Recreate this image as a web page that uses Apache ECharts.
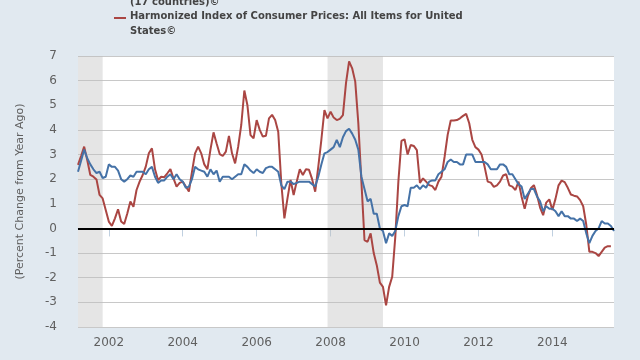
<!DOCTYPE html>
<html><head><meta charset="utf-8">
<script src="https://cdn.jsdelivr.net/npm/echarts@6/dist/echarts.min.js"></script>
<style>html,body{margin:0;padding:0;background:#e1e9f0}#c{width:640px;height:360px}</style>
</head><body><div id="c"></div>
<script>
// ---- data ----
const firstMonth = [2001, 3];   // March 2001
const monthCount = 175;         // through September 2015
const evenYearTicks = ['2002', '2004', '2006', '2008', '2010', '2012', '2014'];
const yMin = -4, yMax = 7, yStep = 1;

const euroAreaName = 'Harmonized Index of Consumer Prices: All Items for Euro area (17 countries)©';
const unitedStatesName = 'Harmonized Index of Consumer Prices: All Items for United States©';

const euroArea = [
  2.3, 2.75, 3.2, 2.85, 2.6, 2.4, 2.25, 2.3, 2.05, 2.1,           // 2001 Mar-Dec
  2.6, 2.5, 2.5, 2.35, 2.0, 1.9, 2.0, 2.15, 2.1, 2.3, 2.3, 2.3,    // 2002
  2.2, 2.4, 2.5, 2.1, 1.85, 1.95, 1.95, 2.1, 2.2, 2.0, 2.2, 2.0,   // 2003
  1.9, 1.65, 1.7, 2.0, 2.5, 2.4, 2.35, 2.3, 2.1, 2.4, 2.2, 2.35,   // 2004
  1.9, 2.1, 2.1, 2.1, 2.0, 2.1, 2.2, 2.2, 2.6, 2.5, 2.35, 2.25,    // 2005
  2.4, 2.3, 2.25, 2.45, 2.5, 2.5, 2.4, 2.3, 1.75, 1.6, 1.9, 1.9,   // 2006
  1.8, 1.85, 1.9, 1.9, 1.9, 1.9, 1.8, 1.7, 2.1, 2.6, 3.05, 3.1,    // 2007
  3.2, 3.3, 3.6, 3.3, 3.7, 3.95, 4.05, 3.85, 3.6, 3.2, 2.1, 1.6,   // 2008
  1.1, 1.2, 0.6, 0.6, 0.0, -0.1, -0.6, -0.2, -0.3, -0.1, 0.5, 0.9, // 2009
  0.95, 0.9, 1.65, 1.65, 1.75, 1.6, 1.75, 1.65, 1.9, 1.95, 1.95, 2.2, // 2010
  2.3, 2.4, 2.7, 2.8, 2.7, 2.7, 2.6, 2.6, 3.0, 3.0, 3.0, 2.7,      // 2011
  2.7, 2.7, 2.7, 2.6, 2.4, 2.4, 2.4, 2.6, 2.6, 2.5, 2.2, 2.2,      // 2012
  2.0, 1.8, 1.7, 1.2, 1.4, 1.6, 1.6, 1.3, 1.1, 0.7, 0.9, 0.8,      // 2013
  0.8, 0.7, 0.5, 0.7, 0.5, 0.5, 0.4, 0.4, 0.3, 0.4, 0.3, -0.2,     // 2014
  -0.6, -0.3, -0.1, 0.0, 0.3, 0.2, 0.2, 0.1, -0.1                  // 2015 Jan-Sep
];

const unitedStates = [
  2.58, 2.94, 3.32, 2.78, 2.17, 2.1, 1.99, 1.36, 1.22, 0.75,        // 2001 Mar-Dec
  0.28, 0.1, 0.41, 0.78, 0.28, 0.18, 0.61, 1.09, 0.88, 1.56, 1.9, 2.17, // 2002
  2.51, 3.05, 3.25, 2.4, 1.96, 2.1, 2.08, 2.24, 2.41, 2.03, 1.7, 1.85,  // 2003
  1.9, 1.7, 1.5, 2.3, 3.05, 3.32, 3.05, 2.6, 2.4, 3.2, 3.9, 3.45,   // 2004
  3.02, 2.94, 3.12, 3.76, 3.05, 2.64, 3.32, 4.2, 5.6, 5.0, 3.79, 3.66, // 2005
  4.4, 4.0, 3.73, 3.76, 4.47, 4.61, 4.4, 3.93, 1.83, 0.41, 1.22, 1.97, // 2006
  1.36, 1.9, 2.4, 2.17, 2.4, 2.38, 2.0, 1.49, 2.5, 3.6, 4.8, 4.47,  // 2007
  4.74, 4.5, 4.4, 4.45, 4.6, 5.9, 6.78, 6.5, 5.96, 4.27, 1.9, -0.47, // 2008
  -0.54, -0.2, -1.0, -1.5, -2.2, -2.37, -3.12, -2.37, -1.96, -0.34, 1.9, 3.55, // 2009
  3.62, 3.0, 3.39, 3.35, 3.18, 1.85, 2.03, 1.9, 1.76, 1.72, 1.56, 1.9, // 2010
  2.1, 2.9, 3.8, 4.38, 4.38, 4.4, 4.47, 4.57, 4.65, 4.27, 3.6, 3.3,  // 2011
  3.2, 3.0, 2.5, 1.9, 1.86, 1.69, 1.75, 1.9, 2.15, 2.2, 1.75, 1.7,   // 2012
  1.56, 1.9, 1.29, 0.8, 1.3, 1.63, 1.76, 1.36, 0.85, 0.54, 1.05, 1.18, // 2013
  0.75, 1.2, 1.75, 1.94, 1.88, 1.65, 1.38, 1.33, 1.3, 1.15, 0.9, 0.15, // 2014
  -0.95, -0.95, -1.0, -1.12, -0.95, -0.78, -0.72, -0.72              // 2015 Jan-Aug
];

const recessions = [['2001-03', '2001-11'], ['2007-12', '2009-06']];

// ---- build ----
const months = [];
for (let i = 0; i < monthCount; i++) {
  const t = firstMonth[1] - 1 + i;
  const y = firstMonth[0] + Math.floor(t / 12);
  const m = t % 12 + 1;
  months.push(y + '-' + (m < 10 ? '0' + m : m));
}
const isTick = (idx, v) => v.slice(5) === '01' && evenYearTicks.indexOf(v.slice(0, 4)) >= 0;

const chart = echarts.init(document.getElementById('c'));
const font = 'DejaVu Sans';
const legendFont = { fontFamily: 'DejaVu Sans', fontWeight: 'bold', fontSize: 10, fill: '#444' };

chart.setOption({
  backgroundColor: '#e1e9f0',
  animation: false,
  textStyle: { fontFamily: font },
  grid: { left: 78, right: 26, top: 56, bottom: 33, show: true, backgroundColor: '#ffffff', borderWidth: 0 },
  xAxis: {
    type: 'category', data: months, boundaryGap: false,
    axisLine: { lineStyle: { color: '#c0d0e0', width: 1 } },
    axisTick: { show: true, interval: isTick, length: 8, lineStyle: { color: '#c0d0e0' } },
    axisLabel: { interval: isTick, formatter: v => v.slice(0, 4), color: '#606060', fontSize: 12, margin: 10, fontFamily: font },
    splitLine: { show: false }
  },
  yAxis: {
    type: 'value', min: yMin, max: yMax, interval: yStep,
    name: '(Percent Change from Year Ago)', nameLocation: 'middle', nameGap: 52, nameRotate: 90,
    nameTextStyle: { color: '#606060', fontSize: 11, fontFamily: font },
    axisLine: { show: false }, axisTick: { show: false },
    axisLabel: { color: '#606060', fontSize: 12, margin: 21, fontFamily: font },
    splitLine: { lineStyle: { color: '#c8c8c8', width: 1 } }
  },
  series: [
    {
      name: euroAreaName, type: 'line', data: euroArea, showSymbol: false,
      lineStyle: { color: '#4572a7', width: 2 }, itemStyle: { color: '#4572a7' },
      markArea: {
        silent: true,
        itemStyle: { color: 'rgba(190,190,190,0.4)' },
        data: recessions.map(r => [{ xAxis: r[0] }, { xAxis: r[1] }])
      },
      z: 3
    },
    {
      name: unitedStatesName, type: 'line', data: unitedStates, showSymbol: false,
      lineStyle: { color: '#aa4643', width: 2 }, itemStyle: { color: '#aa4643' },
      markLine: {
        silent: true, symbol: 'none', label: { show: false },
        lineStyle: { color: '#000', width: 2, type: 'solid' },
        data: [{ yAxis: 0 }]
      },
      z: 2
    }
  ],
  graphic: [
    { type: 'line', shape: { x1: 114, y1: -11.5, x2: 126, y2: -11.5 }, style: { stroke: '#4572a7', lineWidth: 2 } },
    { type: 'text', left: 130, top: -17.5, style: Object.assign({ text: 'Harmonized Index of Consumer Prices: All Items for Euro area' }, legendFont) },
    { type: 'text', left: 130, top: -3, style: Object.assign({ text: '(17 countries)©' }, legendFont) },
    { type: 'line', shape: { x1: 114, y1: 18, x2: 126, y2: 18 }, style: { stroke: '#aa4643', lineWidth: 2 } },
    { type: 'text', left: 130, top: 11.5, style: Object.assign({ text: 'Harmonized Index of Consumer Prices: All Items for United' }, legendFont) },
    { type: 'text', left: 130, top: 26, style: Object.assign({ text: 'States©' }, legendFont) }
  ]
});
</script></body></html>
